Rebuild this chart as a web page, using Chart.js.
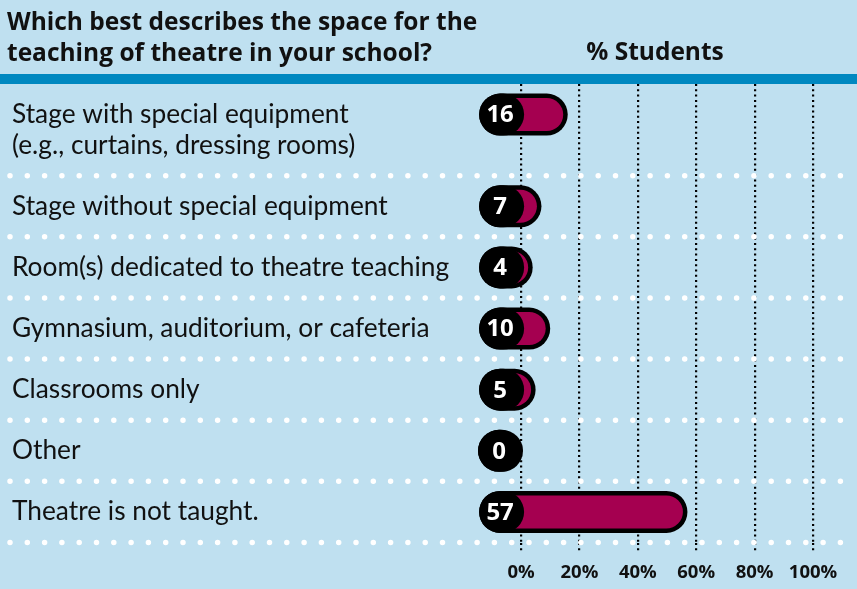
<!DOCTYPE html>
<html>
<head>
<meta charset="utf-8">
<script src="https://cdn.jsdelivr.net/npm/chart.js@4/dist/chart.umd.min.js"></script>
<style>
  html, body { margin: 0; padding: 0; background: #bfe0f0; }
  #wrap { width: 857px; height: 589px; position: relative; }
</style>
</head>
<body>
<div id="wrap"><canvas id="c" width="857" height="589"></canvas></div>
<script>
// ---- Data ----
const titleLines = ["Which best describes the space for the", "teaching of theatre in your school?"];
const axisHeader = "% Students";
const categories = [
  ["Stage with special equipment", "(e.g., curtains, dressing rooms)"],
  ["Stage without special equipment"],
  ["Room(s) dedicated to theatre teaching"],
  ["Gymnasium, auditorium, or cafeteria"],
  ["Classrooms only"],
  ["Other"],
  ["Theatre is not taught."]
];
const values = [16, 7, 4, 10, 5, 0, 57];
const xTickValues = [0, 20, 40, 60, 80, 100];
const xTickLabels = ["0%", "20%", "40%", "60%", "80%", "100%"];

// ---- Row layout derived from label line counts ----
const rowStarts = [];
const rowHeights = categories.map(l => 1 + 0.5 * (l.length - 1));
let acc = 0;
rowHeights.forEach(h => { rowStarts.push(acc); acc += h; });
const totalRows = acc;
const barPos = rowStarts.map(s => s + 0.5);
const labelPos = rowStarts.map((s, i) => s + rowHeights[i] / 2);
const boundaries = rowStarts.slice(1).concat([totalRows]);

const BG = '#bfe0f0';
const BAND = '#0088c0';
const MAGENTA = '#a50050';
const BOLD = "'Open Sans', 'Liberation Sans', sans-serif";
const REG = "Lato, 'Liberation Sans', sans-serif";

function stadium(ctx, x0, x1, yc, r) {
  r = Math.min(r, (x1 - x0) / 2);
  ctx.beginPath();
  ctx.moveTo(x0 + r, yc - r);
  ctx.lineTo(x1 - r, yc - r);
  ctx.arc(x1 - r, yc, r, -Math.PI / 2, Math.PI / 2);
  ctx.lineTo(x0 + r, yc + r);
  ctx.arc(x0 + r, yc, r, Math.PI / 2, Math.PI * 1.5);
  ctx.closePath();
}

const decor = {
  id: 'decor',
  beforeDraw(chart) {
    const ctx = chart.ctx;
    ctx.save();
    ctx.fillStyle = BG;
    ctx.fillRect(0, 0, chart.width, chart.height);
    const top = chart.chartArea.top;
    ctx.fillStyle = BAND;
    ctx.fillRect(0, top - 10, chart.width, 10);
    ctx.fillStyle = '#111';
    ctx.font = "bold 24.5px " + BOLD;
    ctx.textBaseline = 'alphabetic';
    ctx.textAlign = 'left';
    ctx.fillText(titleLines[0], 7, 29.5);
    ctx.fillText(titleLines[1], 7, 60.5);
    ctx.textAlign = 'center';
    ctx.fillText(axisHeader, 655, 59.5);
    ctx.restore();
  },
  beforeDatasetsDraw(chart) {
    const ctx = chart.ctx;
    const ys = chart.scales.y;
    ctx.save();
    ctx.strokeStyle = '#ffffff';
    ctx.lineWidth = 5.5;
    ctx.lineCap = 'round';
    ctx.setLineDash([0, 17.3]);
    boundaries.forEach(b => {
      const y = ys.getPixelForValue(b);
      ctx.beginPath();
      ctx.moveTo(10, y);
      ctx.lineTo(chart.width, y);
      ctx.stroke();
    });
    ctx.restore();
  },
  afterDatasetsDraw(chart) {
    const ctx = chart.ctx;
    const meta = chart.getDatasetMeta(0);
    ctx.save();
    meta.data.forEach((el, i) => {
      const p = el.getProps(['x', 'y', 'base', 'height'], true);
      const r = p.height / 2;
      const left = p.base - 43;
      const right = Math.max(p.x, p.base);
      ctx.fillStyle = '#000';
      stadium(ctx, left, right, p.y, r);
      ctx.fill();
      ctx.fillStyle = MAGENTA;
      stadium(ctx, left + 4.5, right - 4.5, p.y, r - 4.5);
      ctx.fill();
      ctx.fillStyle = '#000';
      stadium(ctx, left, p.base + 2, p.y, r);
      ctx.fill();
      ctx.fillStyle = '#fff';
      ctx.font = "bold 24px " + BOLD;
      ctx.textAlign = 'center';
      ctx.textBaseline = 'middle';
      ctx.fillText(String(values[i]), p.base - 22, p.y + 1);
    });
    ctx.restore();
  }
};

new Chart(document.getElementById('c'), {
  type: 'bar',
  data: {
    datasets: [{
      data: values.map((v, i) => ({ x: v, y: barPos[i] })),
      backgroundColor: 'rgba(0,0,0,0)',
      borderWidth: 0,
      barThickness: 42
    }]
  },
  options: {
    indexAxis: 'y',
    responsive: false,
    animation: false,
    events: [],
    layout: { padding: { top: 84, left: 12, right: 44, bottom: 0 } },
    plugins: { legend: { display: false }, tooltip: { enabled: false }, title: { display: false } },
    scales: {
      x: {
        type: 'linear',
        position: 'bottom',
        min: 0,
        max: 100,
        offset: false,
        afterBuildTicks: s => { s.ticks = xTickValues.map(v => ({ value: v })); },
        afterFit: s => { s.height = 46.5; s.paddingLeft = 0; s.paddingRight = 0; },
        grid: {
          color: '#000',
          lineWidth: 2.2,
          offset: false,
          drawTicks: true,
          tickLength: 10,
          tickColor: '#000',
          tickWidth: 2.2,
          tickBorderDash: [2, 3.3]
        },
        border: { display: false, dash: [2, 3.3] },
        ticks: {
          color: '#111',
          font: { family: BOLD, size: 18.5, weight: 'bold' },
          padding: 9,
          maxRotation: 0,
          autoSkip: false,
          callback: (v, i) => xTickLabels[i]
        }
      },
      y: {
        type: 'linear',
        position: 'left',
        reverse: true,
        offset: false,
        min: 0,
        max: totalRows,
        afterDataLimits: s => { s.min = 0; s.max = totalRows; },
        afterBuildTicks: s => { s.ticks = labelPos.map(v => ({ value: v })); },
        afterFit: s => { s.width = 509; s.paddingTop = 0; s.paddingBottom = 0; },
        grid: { display: false, offset: false },
        border: { display: false },
        ticks: {
          color: '#111',
          crossAlign: 'far',
          autoSkip: false,
          font: { family: REG, size: 26.3, lineHeight: 31 / 26.3 },
          callback: (v, i) => categories[i].length > 1 ? categories[i] : categories[i][0]
        }
      }
    }
  },
  plugins: [decor]
});
</script>
</body>
</html>
